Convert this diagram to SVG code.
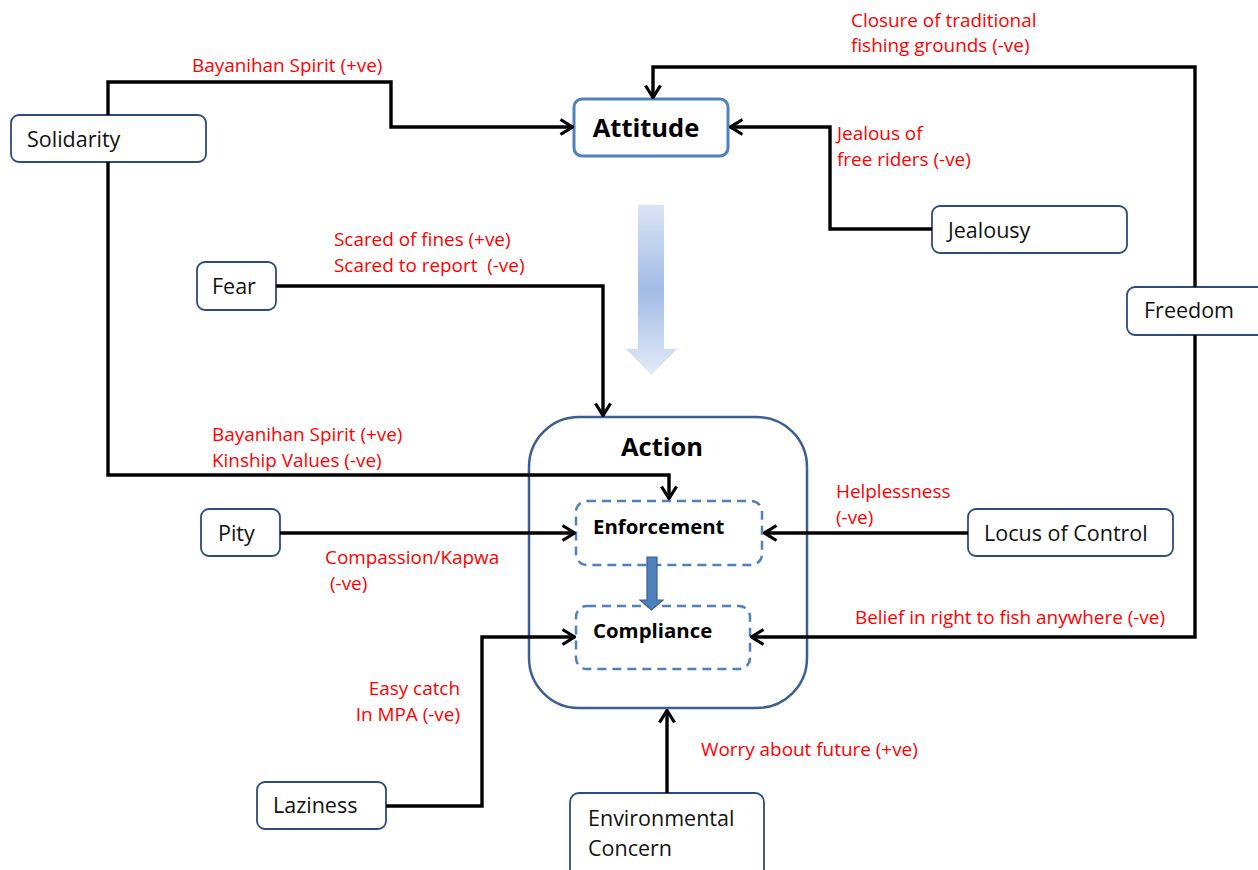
<svg xmlns="http://www.w3.org/2000/svg" width="1258" height="870" viewBox="0 0 1258 870">
<style>
.node{fill:#fff;stroke:#2f4b7c;stroke-width:1.8}
.nt{font-family:"Open Sans","Noto Sans",sans-serif;font-size:21.5px;fill:#111}
.rt{font-family:"Open Sans","Noto Sans",sans-serif;font-size:18.9px;fill:#ff0000}
.bt{font-family:"Open Sans","Noto Sans",sans-serif;font-weight:bold;fill:#000}
.conn{fill:none;stroke:#000;stroke-width:3.4;marker-end:url(#chev)}
.dash{fill:#fff;stroke:#4f81bd;stroke-width:2.5;stroke-dasharray:9 6}
</style>
<defs>
<marker id="chev" viewBox="0 0 15 18" refX="14" refY="9" markerWidth="15" markerHeight="18" markerUnits="userSpaceOnUse" orient="auto">
<path d="M1.5,1.5 L13.5,9 L1.5,16.5" fill="none" stroke="#000" stroke-width="3.2" stroke-linejoin="miter"/>
</marker>
<linearGradient id="bigg" x1="0" y1="0" x2="0" y2="1">
<stop offset="0" stop-color="#dae4f4"/>
<stop offset="0.5" stop-color="#a2bce6"/>
<stop offset="1" stop-color="#e3eaf6"/>
</linearGradient>
</defs>

<g id="big-arrow">
<path d="M638,205 H664 V349 H677 L651.5,375 L626,349 H638 Z" fill="url(#bigg)"/>
</g>

<g id="action">
<rect x="529" y="417" width="278" height="291" rx="50" fill="#fff" stroke="#3a5f94" stroke-width="2.5"/>
<text class="bt" x="662" y="456" font-size="25.5" text-anchor="middle">Action</text>
</g>
<g id="enforcement">
<rect class="dash" x="576" y="501" width="186" height="64" rx="11"/>
<text class="bt" x="593" y="534" font-size="20.4">Enforcement</text>
</g>
<g id="compliance">
<rect class="dash" x="576" y="606" width="174" height="63" rx="11"/>
<text class="bt" x="593" y="638" font-size="20.4">Compliance</text>
</g>

<g id="attitude">
<rect x="574" y="99" width="154" height="57" rx="8" fill="#fff" stroke="#4f81bd" stroke-width="3"/>
<text class="bt" x="646" y="137" font-size="25.5" text-anchor="middle">Attitude</text>
</g>

<g id="solidarity"><rect class="node" x="11" y="115" width="195" height="47" rx="8"/><text class="nt" x="27" y="147">Solidarity</text></g>
<g id="fear"><rect class="node" x="197" y="262" width="79" height="48" rx="8"/><text class="nt" x="212" y="294">Fear</text></g>
<g id="jealousy"><rect class="node" x="932" y="206" width="195" height="47" rx="8"/><text class="nt" x="948" y="238">Jealousy</text></g>
<g id="freedom"><rect class="node" x="1127" y="287" width="140" height="48" rx="8"/><text class="nt" x="1144" y="318">Freedom</text></g>
<g id="pity"><rect class="node" x="201" y="509" width="79" height="47" rx="8"/><text class="nt" x="218" y="541">Pity</text></g>
<g id="locus"><rect class="node" x="968" y="509" width="205" height="47" rx="8"/><text class="nt" x="984" y="541">Locus of Control</text></g>
<g id="laziness"><rect class="node" x="257" y="782" width="129" height="47" rx="8"/><text class="nt" x="273" y="813">Laziness</text></g>
<g id="environmental"><rect class="node" x="570" y="793" width="194" height="90" rx="9"/><text class="nt" x="588" y="826">Environmental</text><text class="nt" x="588" y="856">Concern</text></g>

<g id="connectors">
<path class="conn" d="M108,115 V82 H391 V127 H573"/>
<path class="conn" d="M108,162 V475 H669 V499"/>
<path class="conn" d="M1195,287 V67 H653 V98"/>
<path class="conn" d="M1195,335 V637 H751"/>
<path class="conn" d="M932,229 H830 V127 H730"/>
<path class="conn" d="M276,286 H603 V416"/>
<path class="conn" d="M280,533 H575"/>
<path class="conn" d="M968,533 H764"/>
<path class="conn" d="M386,806 H482 V637 H575"/>
<path class="conn" d="M667,793 V710"/>
<path d="M647,557 H657 V600 H663 L651.5,610 L640,600 H647 Z" fill="#4f81bd" stroke="#3a5f94" stroke-width="1.2"/>
</g>

<g id="labels">
<text class="rt" x="192" y="72">Bayanihan Spirit (+ve)</text>
<text class="rt" x="851" y="27">Closure of traditional</text>
<text class="rt" x="851" y="52">fishing grounds (-ve)</text>
<text class="rt" x="837" y="140">Jealous of</text>
<text class="rt" x="837" y="166">free riders (-ve)</text>
<text class="rt" x="334" y="246">Scared of fines (+ve)</text>
<text class="rt" x="334" y="272" xml:space="preserve">Scared to report  (-ve)</text>
<text class="rt" x="212" y="441">Bayanihan Spirit (+ve)</text>
<text class="rt" x="212" y="467">Kinship Values (-ve)</text>
<text class="rt" x="325" y="564">Compassion/Kapwa</text>
<text class="rt" x="330" y="590">(-ve)</text>
<text class="rt" x="836" y="498">Helplessness</text>
<text class="rt" x="836" y="524">(-ve)</text>
<text class="rt" x="855" y="624">Belief in right to fish anywhere (-ve)</text>
<text class="rt" x="460" y="695" text-anchor="end">Easy catch</text>
<text class="rt" x="460" y="721" text-anchor="end">In MPA (-ve)</text>
<text class="rt" x="701" y="756">Worry about future (+ve)</text>
</g>
</svg>
